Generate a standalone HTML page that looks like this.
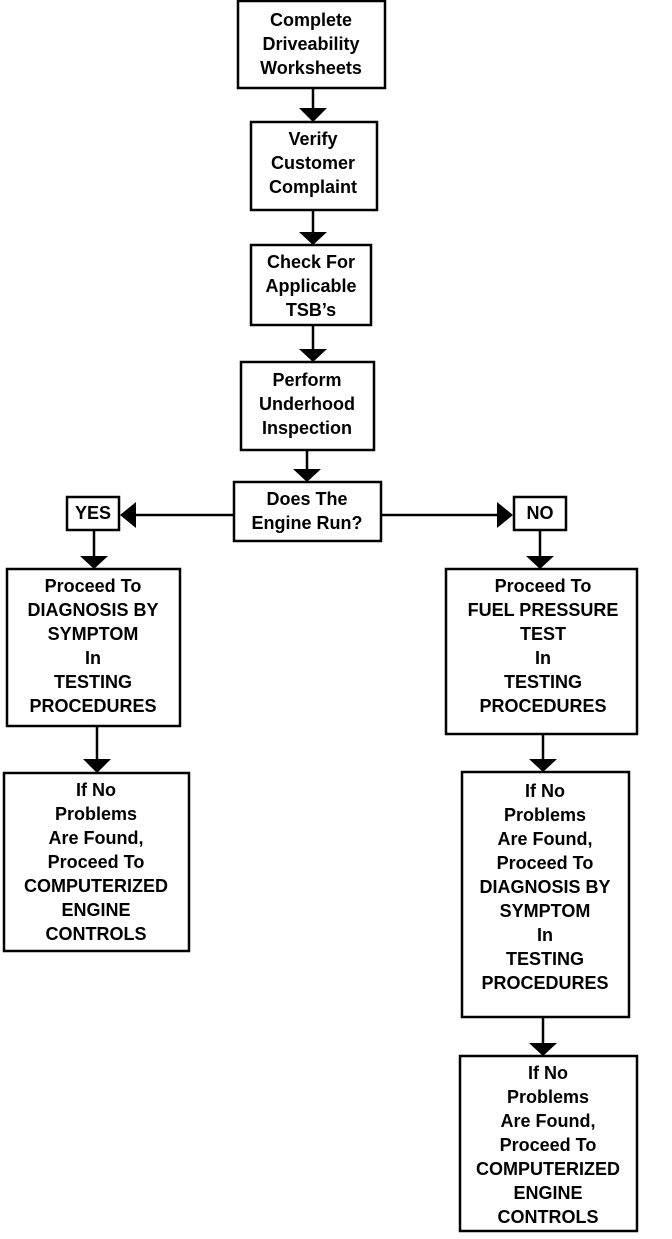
<!DOCTYPE html>
<html><head><style>
html,body{margin:0;padding:0;background:#fff;}
svg text{font-family:"Liberation Sans",Arial,sans-serif;font-weight:bold;font-size:18px;fill:#000;text-anchor:middle;}
</style></head><body>
<svg width="672" height="1234" viewBox="0 0 672 1234" xmlns="http://www.w3.org/2000/svg">
<g fill="none" stroke="#000" stroke-width="2.5">
<rect x="238" y="1" width="147" height="87"/>
<rect x="251" y="122" width="126" height="88"/>
<rect x="251" y="245" width="120" height="80"/>
<rect x="241" y="362" width="133" height="88"/>
<rect x="234" y="482" width="147" height="59"/>
<rect x="67" y="497" width="52" height="33"/>
<rect x="514" y="497" width="52" height="33"/>
<rect x="7" y="569" width="173" height="157"/>
<rect x="446" y="569" width="191" height="165"/>
<rect x="4" y="773" width="185" height="178"/>
<rect x="462" y="772" width="167" height="245"/>
<rect x="460" y="1056" width="177" height="175"/>
<line x1="313" y1="88" x2="313" y2="110"/>
<line x1="313" y1="210" x2="313" y2="232"/>
<line x1="313" y1="325" x2="313" y2="349"/>
<line x1="307" y1="450" x2="307" y2="469"/>
<line x1="234" y1="515" x2="134" y2="515"/>
<line x1="381" y1="515" x2="498" y2="515"/>
<line x1="94" y1="530" x2="94" y2="556"/>
<line x1="540" y1="530" x2="540" y2="556"/>
<line x1="97" y1="726" x2="97" y2="759"/>
<line x1="543" y1="734" x2="543" y2="759"/>
<line x1="543" y1="1017" x2="543" y2="1043"/>
</g>
<g fill="#000">
<polygon points="299,108 327,108 313,122"/>
<polygon points="299,232 327,232 313,245"/>
<polygon points="299,349 327,349 313,362"/>
<polygon points="293,469 321,469 307,482"/>
<polygon points="120,515 136,502 136,528"/>
<polygon points="513,515 497,502 497,528"/>
<polygon points="80,556 108,556 94,569"/>
<polygon points="526,556 554,556 540,569"/>
<polygon points="83,759 111,759 97,773"/>
<polygon points="529,759 557,759 543,772"/>
<polygon points="529,1043 557,1043 543,1056"/>
</g>
<text x="311" y="26">Complete</text>
<text x="311" y="50">Driveability</text>
<text x="311" y="74">Worksheets</text>
<text x="313" y="145">Verify</text>
<text x="313" y="169">Customer</text>
<text x="313" y="193">Complaint</text>
<text x="311" y="268">Check For</text>
<text x="311" y="292">Applicable</text>
<text x="311" y="316">TSB’s</text>
<text x="307" y="386">Perform</text>
<text x="307" y="410">Underhood</text>
<text x="307" y="434">Inspection</text>
<text x="307" y="505">Does The</text>
<text x="307" y="529">Engine Run?</text>
<text x="93" y="519">YES</text>
<text x="540" y="519">NO</text>
<text x="93" y="592">Proceed To</text>
<text x="93" y="616">DIAGNOSIS BY</text>
<text x="93" y="640">SYMPTOM</text>
<text x="93" y="664">In</text>
<text x="93" y="688">TESTING</text>
<text x="93" y="712">PROCEDURES</text>
<text x="543" y="592">Proceed To</text>
<text x="543" y="616">FUEL PRESSURE</text>
<text x="543" y="640">TEST</text>
<text x="543" y="664">In</text>
<text x="543" y="688">TESTING</text>
<text x="543" y="712">PROCEDURES</text>
<text x="96" y="796">If No</text>
<text x="96" y="820">Problems</text>
<text x="96" y="844">Are Found,</text>
<text x="96" y="868">Proceed To</text>
<text x="96" y="892">COMPUTERIZED</text>
<text x="96" y="916">ENGINE</text>
<text x="96" y="940">CONTROLS</text>
<text x="545" y="797">If No</text>
<text x="545" y="821">Problems</text>
<text x="545" y="845">Are Found,</text>
<text x="545" y="869">Proceed To</text>
<text x="545" y="893">DIAGNOSIS BY</text>
<text x="545" y="917">SYMPTOM</text>
<text x="545" y="941">In</text>
<text x="545" y="965">TESTING</text>
<text x="545" y="989">PROCEDURES</text>
<text x="548" y="1079">If No</text>
<text x="548" y="1103">Problems</text>
<text x="548" y="1127">Are Found,</text>
<text x="548" y="1151">Proceed To</text>
<text x="548" y="1175">COMPUTERIZED</text>
<text x="548" y="1199">ENGINE</text>
<text x="548" y="1223">CONTROLS</text>
</svg>
</body></html>
